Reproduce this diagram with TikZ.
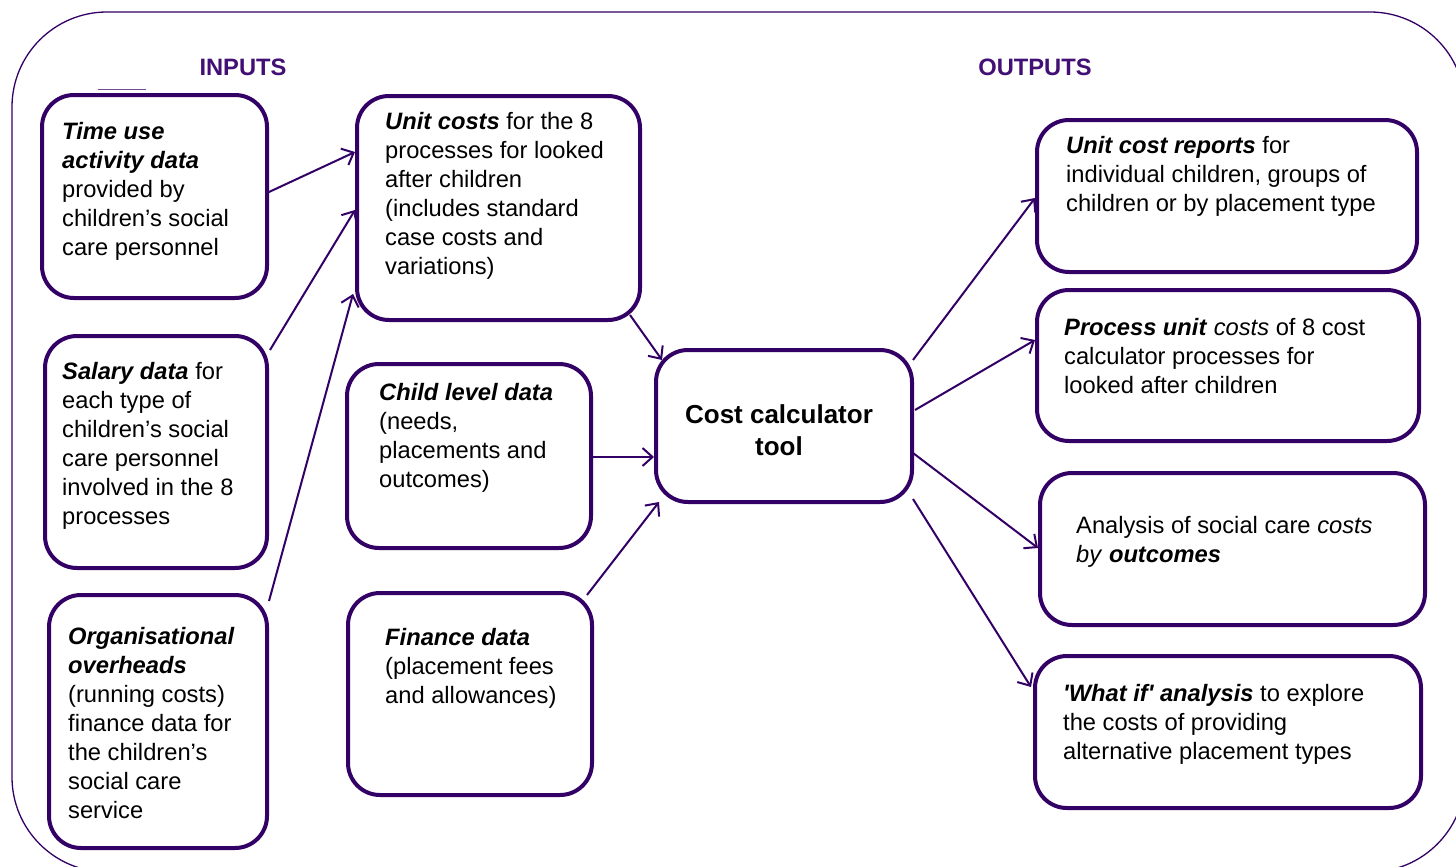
\documentclass[tikz,border=0pt]{standalone}
\usepackage{fontspec}
\setmainfont{Liberation Sans}[Ligatures=TeXOff]
\usetikzlibrary{arrows.meta,calc}
\definecolor{boxc}{RGB}{51,0,102}
\definecolor{headc}{RGB}{66,16,116}
\newcommand{\bi}[1]{\textbf{\textit{#1}}}
\tikzset{
  box/.style={draw=boxc, line width=4pt, rounded corners=32pt, fill=white, inner sep=0pt},
  txt/.style={anchor=north west, inner sep=0pt, align=left, font=\fontsize{23.7}{29}\selectfont, text=black},
  head/.style={inner sep=0pt, font=\fontsize{23.7}{29}\selectfont\bfseries, text=headc},
  arr/.style={draw=boxc, line width=2pt, -{Straight Barb[length=10pt,width=18pt,line width=2pt]}},
}
\begin{document}
\begin{tikzpicture}[x=1pt,y=-1pt]
\useasboundingbox (0,0) rectangle (1456,867);
\fill[white] (0,0) rectangle (1456,867);
\begin{scope}
\clip (0,0) rectangle (1456,867);
\draw[boxc, line width=1.3pt, rounded corners=95pt] (12,12) rectangle (1465,872);
\end{scope}

\node[head] (inp) at (243,67) {INPUTS};
\node[head] (outp) at (1035,67) {OUTPUTS};

% boxes
\node[box, minimum width=225pt, minimum height=203pt] (tu) at (154.5,196.5) {};
\node[box, minimum width=222pt, minimum height=232pt] (sal) at (156,452) {};
\node[box, minimum width=218pt, minimum height=253pt] (org) at (158,721.5) {};
\node[box, minimum width=283pt, minimum height=224pt] (uc) at (498.5,208) {};
\node[box, minimum width=244pt, minimum height=184pt] (cl) at (469,456) {};
\node[box, minimum width=244pt, minimum height=202pt] (fin) at (470,694) {};
\node[box, minimum width=256pt, minimum height=152pt] (cc) at (784,426) {};
\node[box, minimum width=380pt, minimum height=152pt] (ucr) at (1227,196) {};
\node[box, minimum width=382pt, minimum height=151pt] (pu) at (1228,365.5) {};
\node[box, minimum width=385pt, minimum height=152pt] (an) at (1232.5,549) {};
\node[box, minimum width=386pt, minimum height=152pt] (wi) at (1228,732) {};
\draw[boxc!70, line width=0.6pt] ($(tu.north west)+(58,-4)$) -- ($(tu.north west)+(106,-4)$);

% texts
\node[txt] (tut) at (62,122) {\bi{Time use}\\\bi{activity data}\\provided by\\children’s social\\care personnel};
\node[txt] (salt) at (62,362) {\bi{Salary data} for\\each type of\\children’s social\\care personnel\\involved in the 8\\processes};
\node[txt] (orgt) at (68,627) {\bi{Organisational}\\\bi{overheads}\\(running costs)\\finance data for\\the children’s\\social care\\service};
\node[txt] (uct) at (385,112) {\bi{Unit costs} for the 8\\processes for looked\\after children\\(includes standard\\case costs and\\variations)};
\node[txt] (clt) at (379,383) {\bi{Child level data}\\(needs,\\placements and\\outcomes)};
\node[txt] (fint) at (385,628) {\bi{Finance data}\\(placement fees\\and allowances)};
\node[inner sep=0pt, align=center, font=\fontsize{26}{32}\selectfont\bfseries] (cct) at (779,430) {Cost calculator\\tool};
\node[txt] (ucrt) at (1066,136) {\bi{Unit cost reports} for\\individual children, groups of\\children or by placement type};
\node[txt] (put) at (1064,318) {\bi{Process unit} \textit{costs} of 8 cost\\calculator processes for\\looked after children};
\node[txt] (ant) at (1076,516) {Analysis of social care \textit{costs}\\\textit{by} \bi{outcomes}};
\node[txt] (wit) at (1063,684) {\bi{'What if' analysis} to explore\\the costs of providing\\alternative placement types};

% connectors
\draw[arr] ($(tu.east)+(0,-4.5)$) -- ($(uc.west)+(0,-56)$);
\draw[arr] ($(sal.north east)+(1,16)$) -- ($(uc.west)+(0,2)$);
\draw[arr] ($(org.north east)+(0,8)$) -- ($(uc.west)+(-2,86)$);
\draw[arr] ($(uc.south east)+(-12,-7)$) -- ($(cc.north west)+(8,12)$);
\draw[arr] ($(cl.east)+(0,1)$) -- ($(cc.west)+(0,31)$);
\draw[arr] ($(fin.north east)+(-7,4)$) -- ($(cc.south west)+(5,-2)$);
\draw[arr] ($(cc.north east)+(-1,12)$) -- ($(ucr.west)+(0,2)$);
\draw[arr] ($(cc.east)+(1,-16)$) -- ($(pu.west)+(0,-25.5)$);
\draw[arr] ($(cc.east)+(-1,27)$) -- ($(an.west)+(0,-1)$);
\draw[arr] ($(cc.south east)+(-1,-5)$) -- ($(wi.west)+(-2,-45)$);
\end{tikzpicture}
\end{document}
